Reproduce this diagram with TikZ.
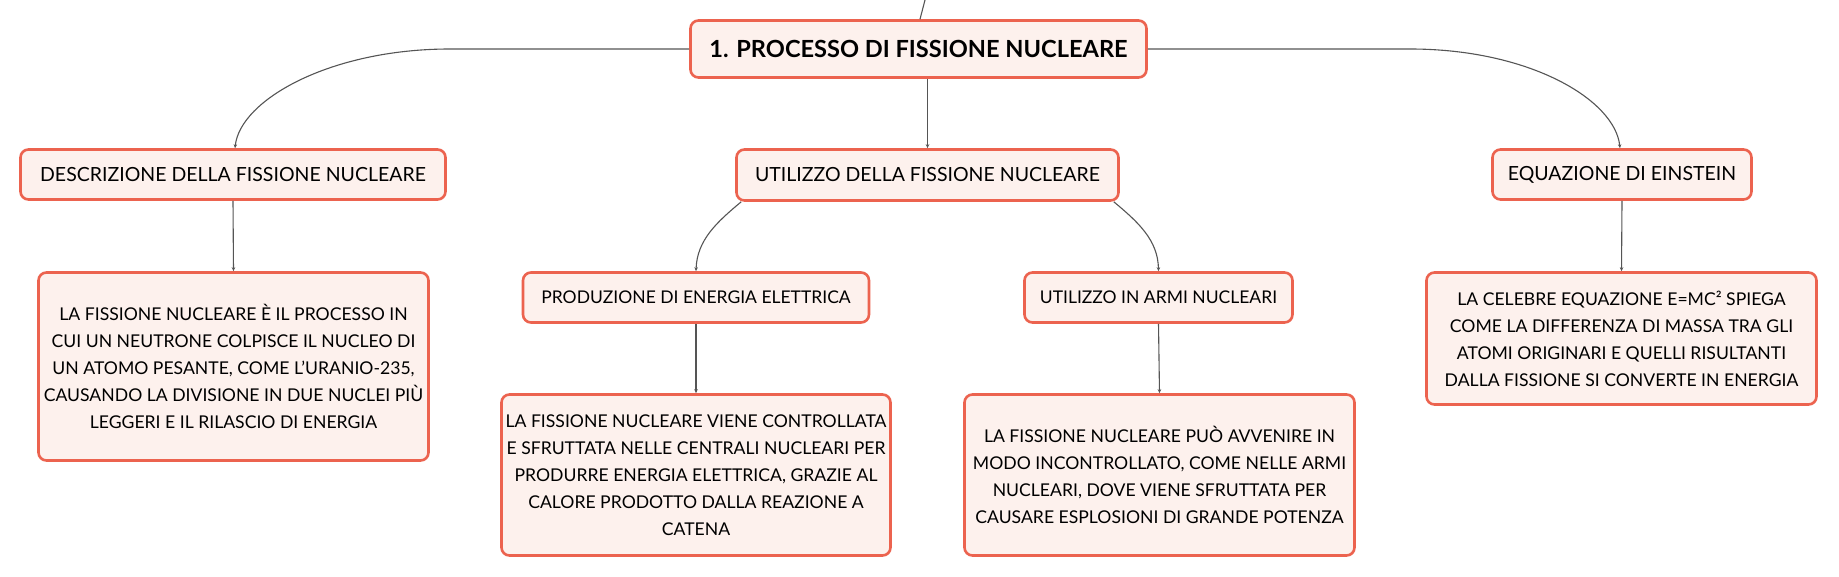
\documentclass[tikz,border=0pt]{standalone}
\usepackage{fontspec}
\setmainfont{Lato}
\usetikzlibrary{arrows.meta}
\definecolor{bord}{HTML}{EC634F}
\definecolor{boxfill}{HTML}{FDF1ED}
\definecolor{conn}{HTML}{555555}
\tikzset{
  box/.style={draw=bord, fill=boxfill, line width=2.6pt, rounded corners=8pt,
    align=center, inner sep=0pt, text=black},
  rootbox/.style={box, font=\fontsize{23.6}{27}\selectfont\bfseries},
  lvlbox/.style={box, font=\fontsize{19.5}{24}\selectfont},
  txtbox/.style={box, font=\fontsize{17.6}{27}\selectfont},
  link/.style={draw=conn, line width=1.1pt, -{Stealth[length=4pt,width=3.5pt]}},
  plain/.style={draw=conn, line width=1.1pt}
}
\begin{document}
\begin{tikzpicture}[x=1pt,y=-1pt]
\useasboundingbox (0,0) rectangle (1839,577);
\fill[white] (0,0) rectangle (1839,577);

\node[rootbox, minimum width=456pt, minimum height=57pt] (root) at (918.5,49) {1. PROCESSO DI FISSIONE NUCLEARE};

\node[lvlbox, minimum width=425pt, minimum height=50pt] (desc) at (233,174.5) {DESCRIZIONE DELLA FISSIONE NUCLEARE};
\node[lvlbox, minimum width=382pt, minimum height=51pt] (util) at (927.5,175) {UTILIZZO DELLA FISSIONE NUCLEARE};
\node[lvlbox, minimum width=259pt, minimum height=50pt] (einst) at (1622,174.5) {EQUAZIONE DI EINSTEIN};

\node[lvlbox, font=\fontsize{17.5}{24}\selectfont, minimum width=346pt, minimum height=50pt] (prod) at (696,297.5) {PRODUZIONE DI ENERGIA ELETTRICA};
\node[lvlbox, font=\fontsize{17.5}{24}\selectfont, minimum width=268pt, minimum height=50pt] (armi) at (1158.5,297.5) {UTILIZZO IN ARMI NUCLEARI};

\node[txtbox, minimum width=390pt, minimum height=188pt] (descC) at (233.5,366.5) {LA FISSIONE NUCLEARE È IL PROCESSO IN\\CUI UN NEUTRONE COLPISCE IL NUCLEO DI\\UN ATOMO PESANTE, COME L'URANIO-235,\\CAUSANDO LA DIVISIONE IN DUE NUCLEI PIÙ\\LEGGERI E IL RILASCIO DI ENERGIA};
\node[txtbox, minimum width=389pt, minimum height=161pt] (prodC) at (696,475) {LA FISSIONE NUCLEARE VIENE CONTROLLATA\\E SFRUTTATA NELLE CENTRALI NUCLEARI PER\\PRODURRE ENERGIA ELETTRICA, GRAZIE AL\\CALORE PRODOTTO DALLA REAZIONE A\\CATENA};
\node[txtbox, minimum width=390pt, minimum height=161pt] (armiC) at (1159.5,475) {LA FISSIONE NUCLEARE PUÒ AVVENIRE IN\\MODO INCONTROLLATO, COME NELLE ARMI\\NUCLEARI, DOVE VIENE SFRUTTATA PER\\CAUSARE ESPLOSIONI DI GRANDE POTENZA};
\node[txtbox, minimum width=390pt, minimum height=132pt] (einstC) at (1621.5,338.5) {LA CELEBRE EQUAZIONE E=MC² SPIEGA\\COME LA DIFFERENZA DI MASSA TRA GLI\\ATOMI ORIGINARI E QUELLI RISULTANTI\\DALLA FISSIONE SI CONVERTE IN ENERGIA};

\coordinate (up) at (925,0);
\coordinate (lbend) at (450,49);
\coordinate (rbend) at (1410,49);

\draw[plain] ([xshift=1.5pt]root.north) -- (up);
\draw[link] (root.west) -- (lbend) .. controls (330,49) and (240,100) .. ([xshift=2pt]desc.north);
\draw[link] (root.south -| util.north) -- (util.north);
\draw[link] (root.east) -- (rbend) .. controls (1530,49) and (1615,100) .. ([xshift=-2pt]einst.north);
\draw[link] (desc.south) -- (descC.north);
\draw[link] ([xshift=6pt]util.south west) .. controls (717,222) and (697,240) .. (prod.north);
\draw[link] ([xshift=-6pt]util.south east) .. controls (1138,222) and (1158,240) .. (armi.north);
\draw[link] (prod.south) -- (prodC.north);
\draw[link] (armi.south) -- (armiC.north);
\draw[link] (einst.south) -- (einstC.north);
\end{tikzpicture}
\end{document}
